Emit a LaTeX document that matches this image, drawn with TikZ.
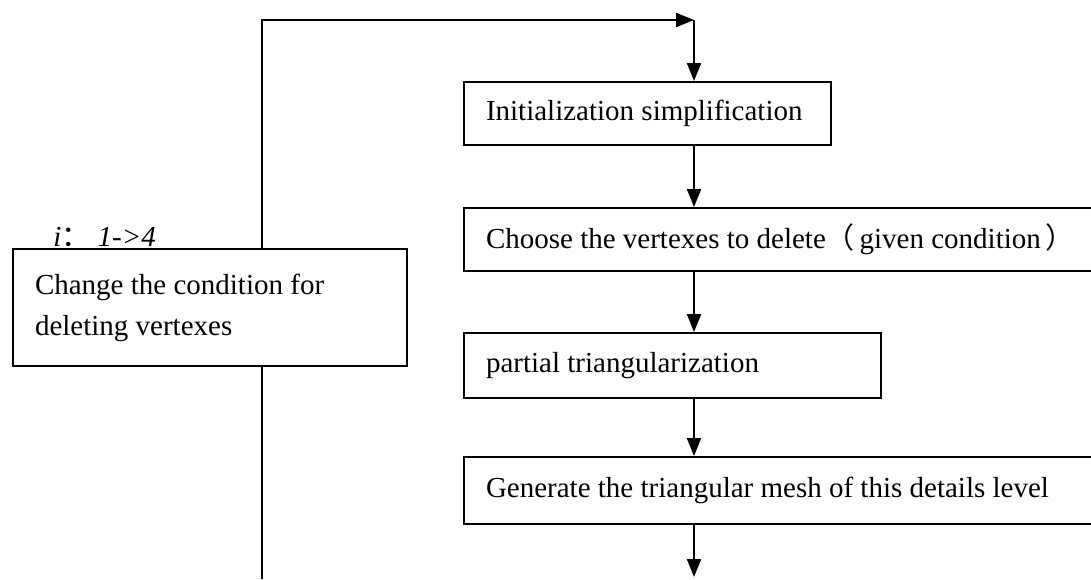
\documentclass[tikz,border=0pt]{standalone}
\usepackage{fontspec}
\setmainfont{Liberation Serif}
\newfontfamily\cjk{Noto Sans CJK SC}
\usetikzlibrary{positioning,arrows.meta}

\begin{document}
\begin{tikzpicture}[
  x=0.5pt, y=-0.5pt,
  font=\fontsize{14.5}{20.5}\selectfont,
  stepbox/.style={draw, line width=1pt, anchor=north west, align=flush left, inner xsep=11pt, inner ysep=0pt},
  arr/.style={-{Triangle[length=9pt,width=7pt]}, line width=1pt},
  wire/.style={line width=1pt},
  lbl/.style={font=\fontsize{14.5}{17}\selectfont\itshape, inner sep=0pt, anchor=base west},
]
  \useasboundingbox (0,0) rectangle (1091,579);
  \node[stepbox, text width=161.5pt, minimum height=31.5pt] (init) at (463,81) {Initialization simplification};
  \node[stepbox, text width=296.5pt, minimum height=31.5pt] (choose) at (463,207) {Choose the vertexes to delete{\cjk （}\,given condition\,{\cjk ）}};
  \node[stepbox, text width=186.5pt, minimum height=32.5pt] (partial) at (463,332) {partial triangularization};
  \node[stepbox, text width=296.5pt, minimum height=33.5pt] (mesh) at (463,456) {Generate the triangular mesh of this details level};
  \node[stepbox, text width=175pt, minimum height=58.5pt] (change) at (12,248) {Change the condition for\\deleting vertexes};
  \node[lbl] (count) at (53,246) {i{\upshape\cjk ：} 1->4};
  \coordinate (col) at (694,0);
  \coordinate (out) at (694,577);
  \coordinate (back) at (262,579);
  \coordinate (turn) at (262,20);
  \draw[arr] (init.south -| col) -- (choose.north -| col);
  \draw[arr] (choose.south -| col) -- (partial.north -| col);
  \draw[arr] (partial.south -| col) -- (mesh.north -| col);
  \draw[arr] (mesh.south -| col) -- (out);
  \draw[wire] (back) -- (change.south -| back);
  \draw[arr] (change.north -| back) -- (turn) -- (turn -| col);
  \draw[arr] (turn -| col) -- (init.north -| col);
\end{tikzpicture}
\end{document}
